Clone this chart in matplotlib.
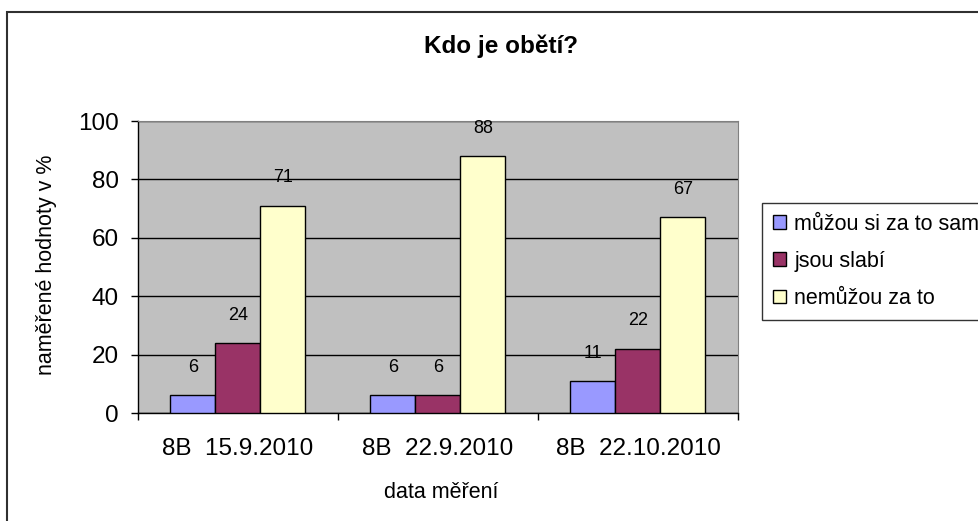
import numpy as np
import matplotlib
matplotlib.use('Agg')
import matplotlib.pyplot as plt
from matplotlib.patches import Rectangle

plt.rcParams['font.family'] = ['Liberation Sans', 'DejaVu Sans']

# data
kategorie = ['8B  15.9.2010', '8B  22.9.2010', '8B  22.10.2010']
serie = ['můžou si za to sami', 'jsou slabí', 'nemůžou za to']
hodnoty_sami = [6, 6, 11]
hodnoty_slabi = [24, 6, 22]
hodnoty_nemuzou = [71, 88, 67]
barvy = ['#9999FF', '#993366', '#FFFFCC']

W, H = 979, 521
fig = plt.figure(figsize=(W/100, H/100), dpi=100)
fig.patch.set_facecolor('white')

# outer frame of the chart area
fig.patches.append(Rectangle((7/W, -0.1), 1.2, 1 - 12/H + 0.1,
                             transform=fig.transFigure, fill=False,
                             ec='#303030', lw=1.5))

ax = fig.add_axes([138/W, 1 - 413/H, 600/W, 292/H])
ax.set_facecolor('#C0C0C0')

x = np.arange(len(kategorie))
sirka = 0.225
data = [hodnoty_sami, hodnoty_slabi, hodnoty_nemuzou]
for i, (hod, nazev, barva) in enumerate(zip(data, serie, barvy)):
    pos = x + (i - 1) * sirka
    ax.bar(pos, hod, width=sirka, color=barva, edgecolor='black',
           linewidth=1.0, label=nazev, zorder=3)
    for px_, v in zip(pos, hod):
        ax.annotate(str(v), (px_, v), xytext=(0, 20), textcoords='offset points',
                    ha='center', va='center', fontsize=13, zorder=4)

ax.set_xlim(-0.5, 2.5)
ax.set_ylim(0, 100)
ax.set_yticks([0, 20, 40, 60, 80, 100])
ax.yaxis.grid(True, color='black', lw=1.0, zorder=1)
ax.set_axisbelow(True)

ax.set_xticks([-0.5, 0.5, 1.5, 2.5])
ax.set_xticklabels([])
ax.set_xticks(x, minor=True)
ax.set_xticklabels(kategorie, minor=True)
ax.tick_params(axis='x', which='major', length=5, width=1, direction='out')
ax.tick_params(axis='x', which='minor', length=0, pad=18, labelsize=17.5)
ax.tick_params(axis='y', length=5, width=1, direction='out', pad=9, labelsize=17.5)

for s in ['top', 'right']:
    ax.spines[s].set_color('#808080')
for s in ['left', 'bottom']:
    ax.spines[s].set_color('black')
    ax.spines[s].set_linewidth(1.0)

fig.text(501/W, 1 - 46/H, 'Kdo je obětí?', ha='center', va='center',
         fontsize=17.5, fontweight='bold')
fig.text(47/W, 1 - 265/H, 'naměřené hodnoty v %', rotation=90,
         ha='center', va='center', fontsize=15.5)
fig.text(441/W, 1 - 492/H, 'data měření', ha='center', va='center',
         fontsize=15.5)

leg = ax.legend(loc='upper left', bbox_to_anchor=(762/W, 1 - 203/H),
                bbox_transform=fig.transFigure, frameon=True, fancybox=False,
                fontsize=15.5, handlelength=0.6, handleheight=0.6,
                handletextpad=0.4, labelspacing=0.75, borderpad=0.5,
                borderaxespad=0)
leg.get_frame().set_edgecolor('black')
leg.get_frame().set_linewidth(1.0)

fig.savefig('out.png', dpi=100)
